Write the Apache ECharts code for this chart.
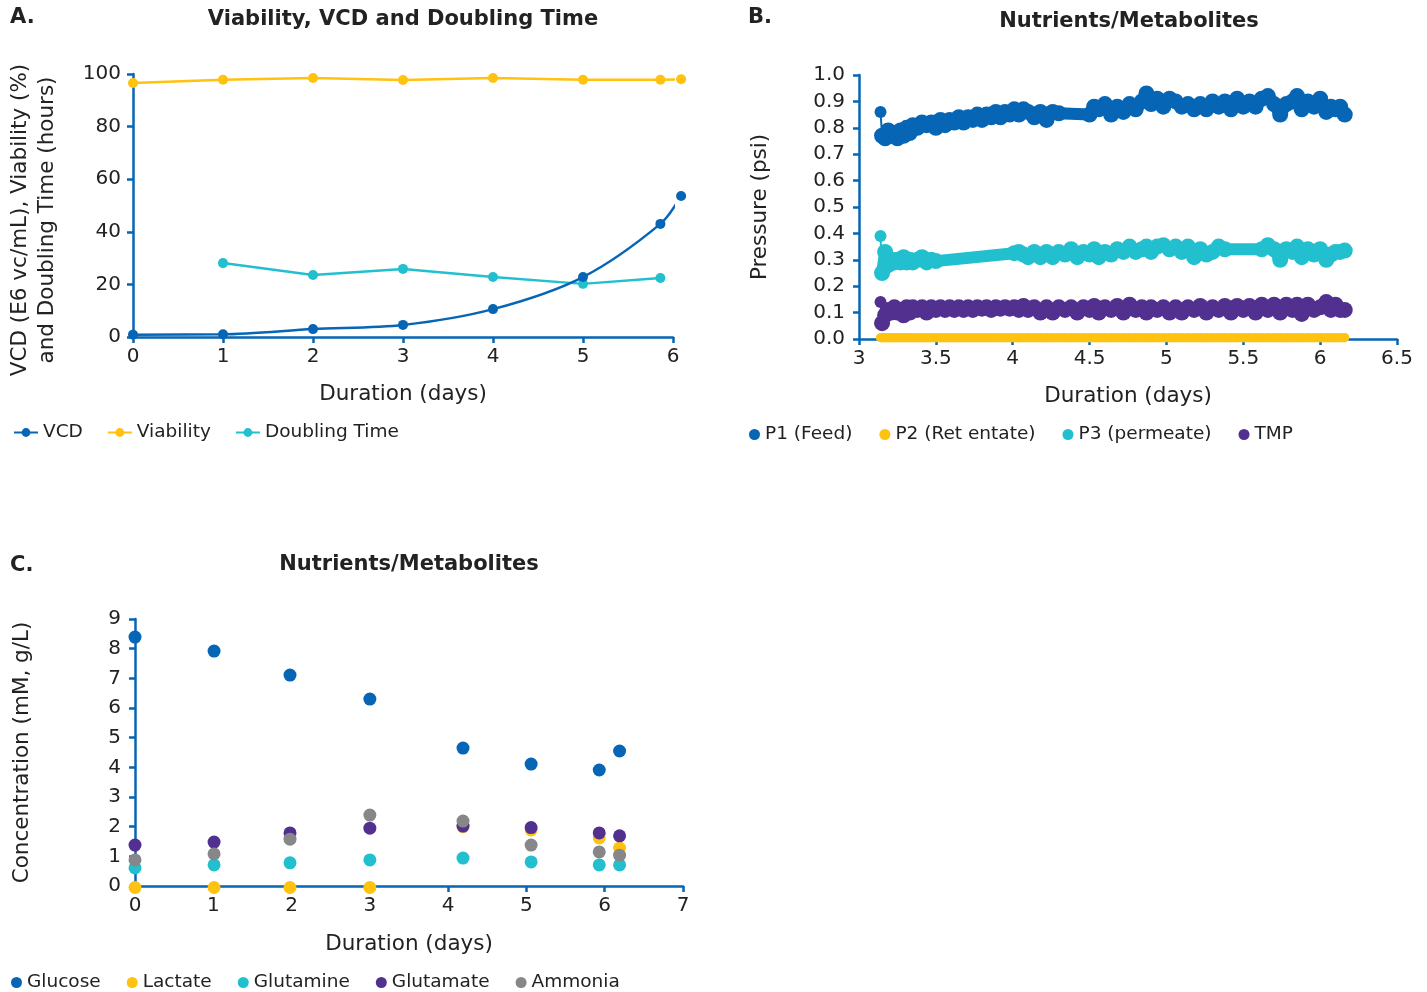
<!DOCTYPE html>
<html><head><meta charset="utf-8">
<script src="https://cdn.jsdelivr.net/npm/echarts@6/dist/echarts.min.js"></script>
<style>html,body{margin:0;padding:0;background:#fff}#c{width:1427px;height:992px}</style>
</head><body><div id="c"></div>
<script>
// ---------- Panel A: Viability, VCD and Doubling Time ----------
const aVcdX = [0, 1, 2, 3, 4, 5, 5.86, 6.09];
const aVcd  = [0.9, 1, 3, 4.6, 10.6, 22.8, 43, 53.6];
const aViaX = [0, 1, 2, 3, 4, 5, 5.86, 6.09];
const aVia  = [96.6, 97.8, 98.5, 97.7, 98.5, 97.8, 97.8, 98];
const aDblX = [1, 2, 3, 4, 5, 5.86];
const aDbl  = [28.1, 23.6, 25.9, 22.8, 20.2, 22.4];

// ---------- Panel B: pressures (psi) over duration (days) ----------
const bT = [
  3.14, 3.15, 3.17, 3.19, 3.21, 3.23, 3.25, 3.27, 3.29, 3.31,
  3.33, 3.35, 3.38, 3.41, 3.44, 3.47, 3.50, 3.53, 3.56, 3.59,
  3.62, 3.65, 3.68, 3.71, 3.74, 3.77, 3.80, 3.83, 3.86, 3.89,
  3.92, 3.95, 3.98, 4.01, 4.04, 4.07, 4.10, 4.14, 4.18, 4.22,
  4.26, 4.30, 4.34, 4.38, 4.42, 4.46, 4.50, 4.53, 4.56, 4.60,
  4.64, 4.68, 4.72, 4.76, 4.80, 4.84, 4.87, 4.90, 4.94, 4.98,
  5.02, 5.06, 5.10, 5.14, 5.18, 5.22, 5.26, 5.30, 5.34, 5.38,
  5.42, 5.46, 5.50, 5.54, 5.58, 5.62, 5.66, 5.70, 5.74, 5.78,
  5.82, 5.85, 5.88, 5.92, 5.96, 6.00, 6.04, 6.07, 6.10, 6.13,
  6.16
];
const bP1 = [
  0.86, 0.77, 0.76, 0.79, 0.77, 0.78, 0.76, 0.79, 0.77, 0.80,
  0.78, 0.81, 0.80, 0.82, 0.81, 0.82, 0.80, 0.83, 0.81, 0.83,
  0.82, 0.84, 0.82, 0.84, 0.83, 0.85, 0.83, 0.85, 0.84, 0.86,
  0.84, 0.86, 0.85, 0.87, 0.85, 0.87, 0.86, 0.84, 0.86, 0.83,
  0.86, 0.855, null, null, null, null, 0.85, 0.88, 0.87, 0.89,
  0.85, 0.88, 0.86, 0.89, 0.87, 0.90, 0.93, 0.89, 0.91, 0.88,
  0.91, 0.90, 0.88, 0.89, 0.87, 0.89, 0.87, 0.90, 0.88, 0.90,
  0.87, 0.91, 0.88, 0.90, 0.88, 0.91, 0.92, 0.89, 0.85, 0.89,
  0.90, 0.92, 0.87, 0.90, 0.88, 0.91, 0.86, 0.88, 0.87, 0.88,
  0.85
];
const bP2 = [
  0.005, 0.005, 0.005, 0.005, 0.005, 0.005, 0.005, 0.005, 0.005, 0.005,
  0.005, 0.005, 0.005, 0.005, 0.005, 0.005, 0.005, 0.005, 0.005, 0.005,
  0.005, 0.005, 0.005, 0.005, 0.005, 0.005, 0.005, 0.005, 0.005, 0.005,
  0.005, 0.005, 0.005, 0.005, 0.005, 0.005, 0.005, 0.005, 0.005, 0.005,
  0.005, 0.005, 0.005, 0.005, 0.005, 0.005, 0.005, 0.005, 0.005, 0.005,
  0.005, 0.005, 0.005, 0.005, 0.005, 0.005, 0.005, 0.005, 0.005, 0.005,
  0.005, 0.005, 0.005, 0.005, 0.005, 0.005, 0.005, 0.005, 0.005, 0.005,
  0.005, 0.005, 0.005, 0.005, 0.005, 0.005, 0.005, 0.005, 0.005, 0.005,
  0.005, 0.005, 0.005, 0.005, 0.005, 0.005, 0.005, 0.005, 0.005, 0.005,
  0.005
];
const bP3 = [
  0.39, 0.25, 0.33, 0.28, 0.30, 0.29, 0.30, 0.29, 0.31, 0.29,
  0.30, 0.29, 0.30, 0.31, 0.29, 0.30, 0.295, null, null, null,
  null, null, null, null, null, null, null, null, null, null,
  null, null, null, 0.325, 0.33, 0.32, 0.31, 0.33, 0.31, 0.33,
  0.31, 0.33, 0.32, 0.34, 0.31, 0.33, 0.32, 0.34, 0.31, 0.33,
  0.32, 0.34, 0.33, 0.35, 0.33, 0.34, 0.35, 0.33, 0.35, 0.355,
  0.34, 0.35, 0.33, 0.35, 0.31, 0.34, 0.32, 0.33, 0.35, 0.34,
  null, null, null, null, null, 0.34, 0.355, 0.34, 0.30, 0.34,
  0.33, 0.35, 0.31, 0.34, 0.32, 0.34, 0.30, 0.32, 0.33, 0.33,
  0.335
];
const bTmp = [
  0.14, 0.06, 0.09, 0.11, 0.10, 0.12, 0.10, 0.11, 0.09, 0.12,
  0.10, 0.12, 0.11, 0.12, 0.10, 0.12, 0.11, 0.12, 0.11, 0.12,
  0.11, 0.12, 0.11, 0.12, 0.11, 0.12, 0.115, 0.12, 0.11, 0.12,
  0.115, 0.12, 0.115, 0.12, 0.11, 0.125, 0.11, 0.12, 0.10, 0.12,
  0.10, 0.12, 0.11, 0.12, 0.10, 0.12, 0.11, 0.125, 0.10, 0.12,
  0.11, 0.125, 0.10, 0.13, 0.11, 0.12, 0.10, 0.12, 0.11, 0.12,
  0.10, 0.12, 0.10, 0.12, 0.11, 0.125, 0.10, 0.12, 0.11, 0.125,
  0.10, 0.125, 0.11, 0.125, 0.10, 0.13, 0.11, 0.13, 0.10, 0.13,
  0.11, 0.13, 0.095, 0.13, 0.11, 0.12, 0.14, 0.11, 0.13, 0.11,
  0.11
];

// ---------- Panel C: Nutrients / Metabolites ----------
const cDays      = [0, 1.01, 1.98, 3.0, 4.19, 5.06, 5.93, 6.19];
const cGlucose   = [8.39, 7.92, 7.11, 6.30, 4.65, 4.11, 3.91, 4.55];
const cLactate   = [-0.05, -0.05, -0.05, -0.05, 2.0, 1.89, 1.62, 1.28];
const cGlutamine = [0.61, 0.71, 0.78, 0.88, 0.94, 0.81, 0.71, 0.71];
const cGlutamate = [1.38, 1.48, 1.79, 1.95, 2.02, 1.97, 1.79, 1.69];
const cAmmonia   = [0.88, 1.08, 1.58, 2.39, 2.19, 1.38, 1.15, 1.04];

// ---------- styling ----------
const BLUE = '#0665b4', YEL = '#ffc20e', CYAN = '#22bfcf', PURP = '#51308f', GRAY = '#87878a';
const TXT = '#222222';
const FONT = 'DejaVu Sans';
const TICK_FS = 20, NAME_FS = 21.5, LEG_FS = 18.5, TITLE_FONT = 'bold 21px "DejaVu Sans"';

function pairs(xs, ys) { return xs.map((x, i) => [x, ys[i]]); }

function axisCommon(extra, labelExtra) {
  return Object.assign({
    type: 'value',
    axisLine: { show: true, lineStyle: { color: BLUE, width: 2.5 } },
    axisTick: { show: true, length: 6, lineStyle: { color: BLUE, width: 2.5 } },
    splitLine: { show: false },
    axisLabel: Object.assign({ color: TXT, fontSize: TICK_FS, fontFamily: FONT }, labelExtra || {}),
    nameTextStyle: { color: TXT, fontSize: NAME_FS, fontFamily: FONT },
    nameLocation: 'middle'
  }, extra);
}

function bandSeries(name, xs, ys, color) {
  return { name: name, type: 'line', xAxisIndex: 1, yAxisIndex: 1, data: pairs(xs, ys).slice(1), connectNulls: true,
    symbol: 'circle', symbolSize: 16, color: color, lineStyle: { width: 12, color: color, join: 'round', cap: 'round' } };
}
function stemSeries(name, xs, ys, color) {
  return { name: name, type: 'line', xAxisIndex: 1, yAxisIndex: 1, data: pairs(xs, ys).slice(0, 2),
    symbol: 'circle', symbolSize: 12, color: color, lineStyle: { width: 2, color: color } };
}
function dots(name, ys, color) {
  return { name: name, type: 'scatter', xAxisIndex: 2, yAxisIndex: 2, data: pairs(cDays, ys), symbolSize: 13,
    color: color, itemStyle: { opacity: 1 }, clip: false };
}

const chart = echarts.init(document.getElementById('c'), null, { renderer: 'canvas' });

const option = {
  animation: false,
  textStyle: { fontFamily: FONT },
  graphic: [
    { type: 'text', x: 10, y: 18, style: { text: 'A.', font: TITLE_FONT, fill: TXT, textVerticalAlign: 'middle' } },
    { type: 'text', x: 403, y: 20, style: { text: 'Viability, VCD and Doubling Time', font: TITLE_FONT, fill: TXT, textAlign: 'center', textVerticalAlign: 'middle' } },
    { type: 'text', x: 748, y: 18, style: { text: 'B.', font: TITLE_FONT, fill: TXT, textVerticalAlign: 'middle' } },
    { type: 'text', x: 1129, y: 22, style: { text: 'Nutrients/Metabolites', font: TITLE_FONT, fill: TXT, textAlign: 'center', textVerticalAlign: 'middle' } },
    { type: 'text', x: 10, y: 566, style: { text: 'C.', font: TITLE_FONT, fill: TXT, textVerticalAlign: 'middle' } },
    { type: 'text', x: 409, y: 565, style: { text: 'Nutrients/Metabolites', font: TITLE_FONT, fill: TXT, textAlign: 'center', textVerticalAlign: 'middle' } },
    // Panel A y-axis title (two lines, rotated)
    { type: 'text', x: 34, y: 220, rotation: Math.PI / 2,
      style: { text: 'VCD (E6 vc/mL), Viability (%)\nand Doubling Time (hours)', font: NAME_FS + 'px "DejaVu Sans"',
               lineHeight: 27, fill: TXT, textAlign: 'center', textVerticalAlign: 'middle' } }
  ],
  legend: [
    { left: 8, top: 418, itemWidth: 24, itemHeight: 11, itemGap: 24,
      textStyle: { color: TXT, fontSize: LEG_FS, fontFamily: FONT },
      data: ['VCD', 'Viability', 'Doubling Time'] },
    { left: 744, top: 420, itemWidth: 11, itemHeight: 11, itemGap: 27, icon: 'circle',
      textStyle: { color: TXT, fontSize: LEG_FS, fontFamily: FONT },
      data: ['P1 (Feed)', 'P2 (Ret entate)', 'P3 (permeate)', 'TMP'] },
    { left: 6, top: 968, itemWidth: 11, itemHeight: 11, itemGap: 26, icon: 'circle',
      textStyle: { color: TXT, fontSize: LEG_FS, fontFamily: FONT },
      data: ['Glucose', 'Lactate', 'Glutamine', 'Glutamate', 'Ammonia'] }
  ],
  grid: [
    { left: 133, top: 74, width: 540, height: 263 },
    { left: 859, top: 75, width: 538, height: 264 },
    { left: 135, top: 619, width: 548, height: 267 }
  ],
  xAxis: [
    axisCommon({ gridIndex: 0, min: 0, max: 6, interval: 1, name: 'Duration (days)', nameGap: 46 }, { margin: 10 }),
    axisCommon({ gridIndex: 1, min: 3, max: 6.5, interval: 0.5, name: 'Duration (days)', nameGap: 46 }, { margin: 10 }),
    axisCommon({ gridIndex: 2, min: 0, max: 7, interval: 1, name: 'Duration (days)', nameGap: 47 }, { margin: 10 })
  ],
  yAxis: [
    axisCommon({ gridIndex: 0, min: 0, max: 100, interval: 20 }, { margin: 12 }),
    axisCommon({ gridIndex: 1, min: 0, max: 1, interval: 0.1, nameGap: 88, name: 'Pressure (psi)' },
      { margin: 14, formatter: v => v.toFixed(1) }),
    axisCommon({ gridIndex: 2, min: 0, max: 9, interval: 1, nameGap: 102, name: 'Concentration (mM, g/L)' }, { margin: 14 })
  ],
  series: [
    // Panel A
    { name: 'VCD', type: 'line', xAxisIndex: 0, yAxisIndex: 0, data: pairs(aVcdX, aVcd), smooth: 0.3,
      symbol: 'circle', symbolSize: 10, clip: false, color: BLUE, lineStyle: { width: 2.5, color: BLUE }, z: 3 },
    { name: 'Viability', type: 'line', xAxisIndex: 0, yAxisIndex: 0, data: pairs(aViaX, aVia),
      symbol: 'circle', symbolSize: 10, clip: false, color: YEL, lineStyle: { width: 2.5, color: YEL }, z: 2 },
    { name: 'Doubling Time', type: 'line', xAxisIndex: 0, yAxisIndex: 0, data: pairs(aDblX, aDbl),
      symbol: 'circle', symbolSize: 10, clip: false, color: CYAN, lineStyle: { width: 2.5, color: CYAN }, z: 2 },
    // Panel B
    bandSeries('P1 (Feed)', bT, bP1, BLUE),
    stemSeries('P1 start', bT, bP1, BLUE),
    { name: 'P2 (Ret entate)', type: 'line', xAxisIndex: 1, yAxisIndex: 1, data: pairs(bT, bP2),
      symbol: 'circle', symbolSize: 9, color: YEL, lineStyle: { width: 9, color: YEL, cap: 'round' } },
    bandSeries('P3 (permeate)', bT, bP3, CYAN),
    stemSeries('P3 start', bT, bP3, CYAN),
    bandSeries('TMP', bT, bTmp, PURP),
    stemSeries('TMP start', bT, bTmp, PURP),
    // Panel C
    dots('Glucose', cGlucose, BLUE),
    dots('Lactate', cLactate, YEL),
    dots('Glutamine', cGlutamine, CYAN),
    dots('Glutamate', cGlutamate, PURP),
    dots('Ammonia', cAmmonia, GRAY)
  ]
};
chart.setOption(option);
</script>
</body></html>
